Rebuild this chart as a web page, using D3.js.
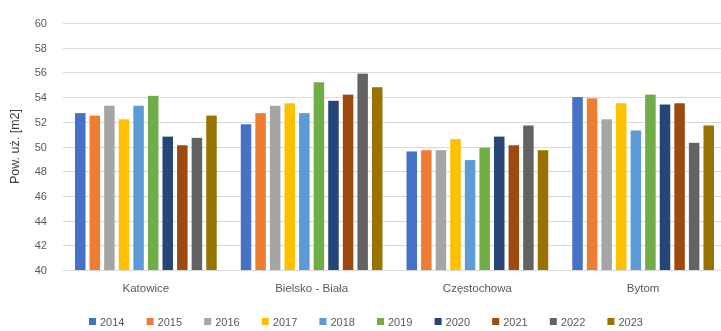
<!DOCTYPE html>
<html>
<head>
<meta charset="utf-8">
<script src="https://cdn.jsdelivr.net/npm/d3@7"></script>
<style>
  html, body { margin: 0; padding: 0; background: #fff; }
  svg { display: block; font-family: "Liberation Sans", "DejaVu Sans", sans-serif; }
</style>
</head>
<body>
<svg id="chart" width="721" height="331"></svg>
<script>
// Cities and years
const cities = ["Katowice", "Bielsko - Biała", "Częstochowa", "Bytom"];
const years = ["2014", "2015", "2016", "2017", "2018", "2019", "2020", "2021", "2022", "2023"];

// Average usable floor area [m2], one array per city, in year order
const katowice    = [52.7, 52.5, 53.3, 52.2, 53.3, 54.1, 50.8, 50.1, 50.7, 52.5];
const bielsko     = [51.8, 52.7, 53.3, 53.5, 52.7, 55.2, 53.7, 54.2, 55.9, 54.8];
const czestochowa = [49.6, 49.7, 49.7, 50.6, 48.9, 49.9, 50.8, 50.1, 51.7, 49.7];
const bytom       = [54.0, 53.9, 52.2, 53.5, 51.3, 54.2, 53.4, 53.5, 50.3, 51.7];
const seriesByCity = [katowice, bielsko, czestochowa, bytom];

const yTicks = [40, 42, 44, 46, 48, 50, 52, 54, 56, 58, 60];
const colors = ["#4472C4", "#ED7D31", "#A5A5A5", "#FFC000", "#5B9BD5",
                "#70AD47", "#264478", "#9E480E", "#636363", "#997300"];

const svg = d3.select("#chart");
const plot = { left: 63, right: 726, top: 23, bottom: 270 };

// Soft rendering of the whole chart
svg.append("defs").append("filter").attr("id", "soft")
  .attr("x", "-2%").attr("y", "-2%").attr("width", "104%").attr("height", "104%")
  .append("feGaussianBlur").attr("stdDeviation", 0.55);
const root = svg.append("g").attr("filter", "url(#soft)");
root.append("rect").attr("width", 721).attr("height", 331).attr("fill", "#fff");

const y = d3.scaleLinear().domain([40, 60]).range([plot.bottom, plot.top]);
const x0 = d3.scaleBand().domain(cities).range([plot.left, plot.right])
  .paddingInner(0.145).paddingOuter(0.0725);
const x1 = d3.scaleBand().domain(years).range([0, x0.bandwidth()])
  .paddingInner(0.28).paddingOuter(0);
const color = d3.scaleOrdinal().domain(years).range(colors);

// Horizontal gridlines
root.append("g")
  .selectAll("line")
  .data(yTicks)
  .join("line")
  .attr("x1", plot.left).attr("x2", plot.right)
  .attr("y1", d => Math.round(y(d)) + 0.5).attr("y2", d => Math.round(y(d)) + 0.5)
  .attr("stroke", "#d9d9d9").attr("stroke-width", 1);

// Y axis tick labels
const yAxis = d3.axisLeft(y).tickValues(yTicks).tickSize(0).tickPadding(0);
const gy = root.append("g").attr("transform", `translate(${plot.left - 16},0)`).call(yAxis);
gy.select(".domain").remove();
gy.selectAll("text").attr("fill", "#595959").style("font-size", "11px")
  .style("font-family", "Liberation Sans, sans-serif");

// Y axis title
root.append("text")
  .attr("transform", `translate(19,${(plot.top + plot.bottom) / 2}) rotate(-90)`)
  .attr("text-anchor", "middle")
  .attr("fill", "#404040")
  .style("font-size", "12.5px")
  .text("Pow. uż. [m2]");

// Bars
const groups = root.append("g")
  .selectAll("g")
  .data(cities.map((c, i) => ({ city: c, values: seriesByCity[i] })))
  .join("g")
  .attr("transform", d => `translate(${x0(d.city)},0)`);

groups.selectAll("rect")
  .data(d => d.values.map((v, j) => ({ year: years[j], value: v })))
  .join("rect")
  .attr("x", d => x1(d.year))
  .attr("width", x1.bandwidth())
  .attr("y", d => y(d.value))
  .attr("height", d => y(40) - y(d.value))
  .attr("fill", d => color(d.year));

// Category labels
const xAxis = d3.axisBottom(x0).tickSize(0).tickPadding(0);
const gx = root.append("g").attr("transform", `translate(0,${plot.bottom + 14})`).call(xAxis);
gx.select(".domain").remove();
gx.selectAll("text").attr("fill", "#595959").style("font-size", "11.5px")
  .style("font-family", "Liberation Sans, sans-serif");

// Legend
const legend = root.append("g").attr("transform", "translate(89,318)");
const item = legend.selectAll("g")
  .data(years)
  .join("g")
  .attr("transform", (d, i) => `translate(${i * 57.6},0)`);
item.append("rect")
  .attr("width", 7).attr("height", 7).attr("y", 0)
  .attr("fill", d => color(d));
item.append("text")
  .attr("x", 11).attr("y", 7.5)
  .attr("fill", "#595959")
  .style("font-size", "11px")
  .text(d => d);
</script>
</body>
</html>
